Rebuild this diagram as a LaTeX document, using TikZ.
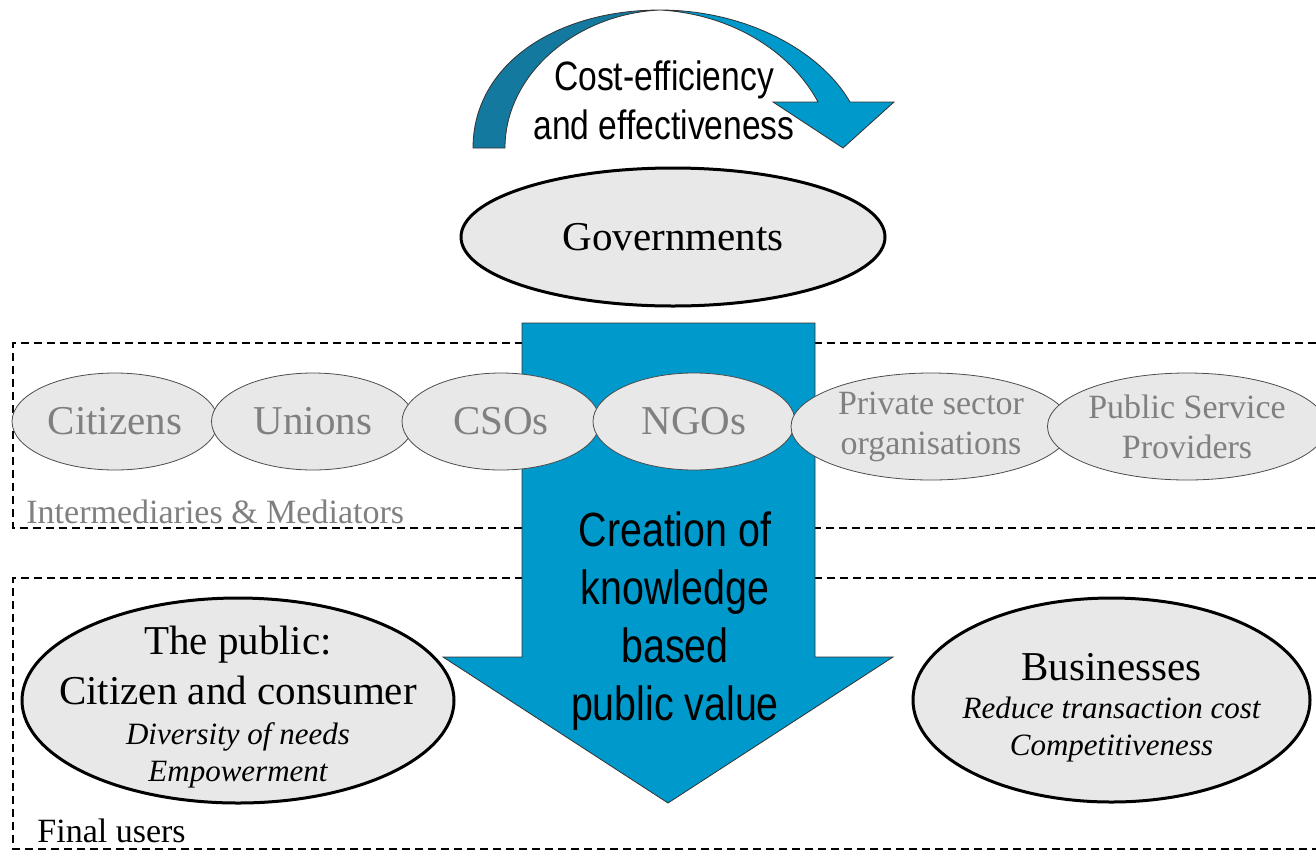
\documentclass[tikz,border=0pt]{standalone}
\usepackage{fontspec}
\setmainfont{Liberation Serif}
\newfontfamily\arrowfont[FakeStretch=0.82]{Liberation Sans}
\usetikzlibrary{calc,positioning,shapes.geometric,arrows.meta}
\definecolor{arrowblue}{HTML}{0099CC}
\definecolor{arrowdark}{HTML}{14799F}
\definecolor{ellgray}{HTML}{E8E8E8}
\definecolor{textgray}{HTML}{808080}
\newcommand{\goaltext}[1]{{\fontsize{15.5}{18.5}\selectfont\itshape #1}}

\begin{document}
\begin{tikzpicture}[x=0.5pt,y=-0.5pt,
    mediator/.style={ellipse,draw=black!70,fill=ellgray,text=textgray,inner sep=0pt,
        align=center,font=\fontsize{20.5}{24}\selectfont},
    user/.style={ellipse,draw=black,line width=1.5pt,fill=ellgray,inner sep=0pt,
        align=center,font=\fontsize{20.5}{25}\selectfont},
    usertext/.style={align=center,font=\fontsize{20.5}{25}\selectfont},
    boxlabel/.style={anchor=base west,inner sep=0pt,font=\fontsize{17}{20}\selectfont},
    groupbox/.style={dash pattern=on 4pt off 2.5pt,line width=0.7pt},
    bluearrow/.style={draw=black!80,line width=0.4pt}]

    \useasboundingbox (0,0) rectangle (1316,852);

    \draw[groupbox] (1316,343) -- (13,343) -- (13,528) -- (1316,528);
    \draw[groupbox] (1316,578) -- (13,578) -- (13,849) -- (1316,849);

    \draw[bluearrow,fill=arrowdark] (473,148) .. controls (473,65) and (555,10) .. (660,10)
        .. controls (575,14) and (505,75) .. (505,148) -- cycle;
    \draw[bluearrow,fill=arrowblue] (660,10) .. controls (745,10) and (820,50) .. (850,102)
        -- (894,102) -- (843,148) -- (773,102) -- (818,102)
        .. controls (790,50) and (730,14) .. (660,10) -- cycle;
    \node[font=\arrowfont\fontsize{20.5}{24.5}\selectfont,align=center] (cost) at (664,100)
        {Cost-efficiency\\and effectiveness};

    \node[user,minimum width=212pt,minimum height=69pt] (gov) at (673,237) {Governments};

    \draw[bluearrow,fill=arrowblue] (522,323) -- (815,323) -- (815,657) -- (893,657)
        -- (668,803) -- (443,657) -- (522,657) -- cycle;

    \node[mediator,minimum width=103pt,minimum height=48.5pt] (citizens) at (115,421.5) {Citizens};
    \node[mediator,minimum width=101.5pt,minimum height=48.5pt] (unions) at (313,421.5) {Unions};
    \node[mediator,minimum width=99pt,minimum height=48.5pt] (csos) at (501,421.5) {CSOs};
    \node[mediator,minimum width=101pt,minimum height=48.5pt] (ngos) at (694,421.5) {NGOs};
    \node[mediator,minimum width=140pt,minimum height=53.5pt,font=\fontsize{17}{20}\selectfont]
        (private) at (931,426.5) {Private sector\\organisations};
    \node[mediator,minimum width=128pt,minimum height=53.5pt,font=\fontsize{17}{20}\selectfont]
        (providers) at (1187,426.5) {Public Service\\Providers};

    \node[boxlabel,text=textgray] (midlabel) at (26,523) {Intermediaries \& Mediators};

    \node[font=\arrowfont\fontsize{24}{29}\selectfont,align=center] (value) at (675,621)
        {Creation of\\knowledge\\based\\public value};

    \node[user,minimum width=216pt,minimum height=102.5pt] (public) at (238,700.5) {};
    \node[usertext] (publictext) at (238,707)
        {The public:\\Citizen and consumer\\[-5pt]\goaltext{Diversity of needs}\\[-6.5pt]\goaltext{Empowerment}};
    \node[user,minimum width=198.5pt,minimum height=102pt] (business) at (1111.5,700) {};
    \node[usertext] (businesstext) at (1111.5,708)
        {Businesses\\[-6pt]\goaltext{Reduce transaction cost}\\[-6.5pt]\goaltext{Competitiveness}};

    \node[boxlabel] (userlabel) at (37,842) {Final users};

\end{tikzpicture}
\end{document}
